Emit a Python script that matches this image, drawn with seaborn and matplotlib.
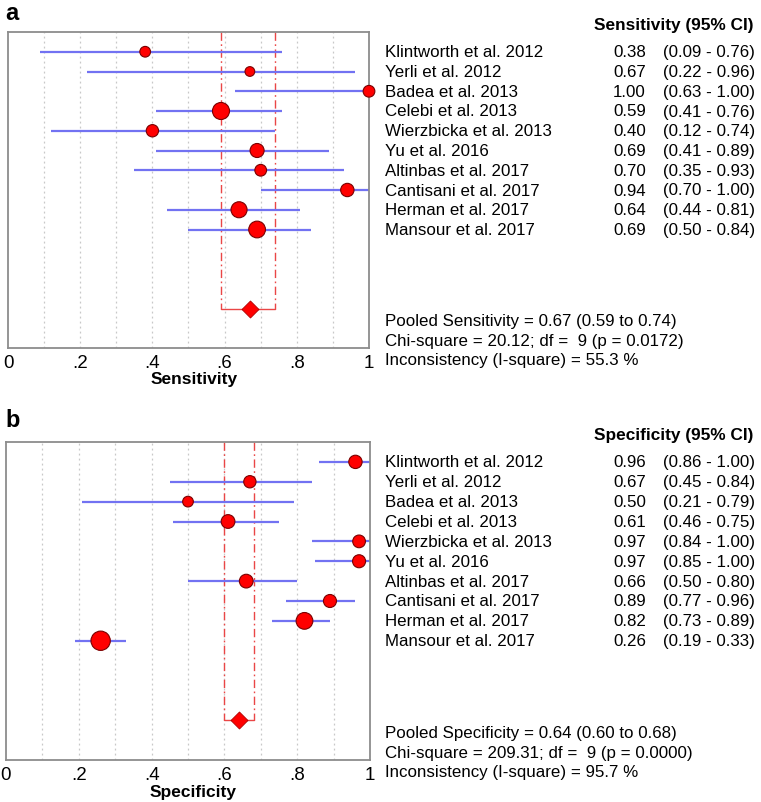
import numpy as np
import pandas as pd
import matplotlib
matplotlib.use("Agg")
import matplotlib.pyplot as plt
import matplotlib.transforms as mtransforms
import seaborn as sns

studies = ["Klintworth et al. 2012", "Yerli et al. 2012", "Badea et al. 2013",
           "Celebi et al. 2013", "Wierzbicka et al. 2013", "Yu et al. 2016",
           "Altinbas et al. 2017", "Cantisani et al. 2017", "Herman et al. 2017",
           "Mansour et al. 2017"]

sens = [0.38, 0.67, 1.00, 0.59, 0.40, 0.69, 0.70, 0.94, 0.64, 0.69]
sens_lo = [0.09, 0.22, 0.63, 0.41, 0.12, 0.41, 0.35, 0.70, 0.44, 0.50]
sens_hi = [0.76, 0.96, 1.00, 0.76, 0.74, 0.89, 0.93, 1.00, 0.81, 0.84]
sens_weight = [114, 94, 137, 289, 151, 196, 137, 177, 256, 279]
sens_pooled = [0.67, 0.59, 0.74]
sens_stats = ["Pooled Sensitivity = 0.67 (0.59 to 0.74)",
              "Chi-square = 20.12; df =  9 (p = 0.0172)",
              "Inconsistency (I-square) = 55.3 %"]

spec = [0.96, 0.67, 0.50, 0.61, 0.97, 0.97, 0.66, 0.89, 0.82, 0.26]
spec_lo = [0.86, 0.45, 0.21, 0.46, 0.84, 0.85, 0.50, 0.77, 0.73, 0.19]
spec_hi = [1.00, 0.84, 0.79, 0.75, 1.00, 1.00, 0.80, 0.96, 0.89, 0.33]
spec_weight = [177, 151, 114, 188, 161, 169, 188, 169, 279, 372]
spec_pooled = [0.64, 0.60, 0.68]
spec_stats = ["Pooled Specificity = 0.64 (0.60 to 0.68)",
              "Chi-square = 209.31; df =  9 (p = 0.0000)",
              "Inconsistency (I-square) = 95.7 %"]

sns.set_style("white")
plt.rcParams["font.family"] = ["Liberation Sans", "DejaVu Sans"]
plt.rcParams["text.color"] = "black"
plt.rcParams["axes.labelcolor"] = "black"
plt.rcParams["xtick.color"] = "black"

fig = plt.figure(figsize=(7.61, 8.03), dpi=100)


def forest(ax, est, lo, hi, weight, pooled, stats, header, xlabel):
    rows = np.arange(1, len(est) + 1)
    df = pd.DataFrame({"study": studies, "est": est, "lo": lo, "hi": hi,
                       "w": weight, "row": rows})

    for g in np.arange(0.1, 1.0, 0.1):
        ax.axvline(g, color="#c8c8c8", lw=0.9, ls=(0, (1.5, 2.5)), zorder=0)

    p_row = 14
    for xv in pooled[1:]:
        ax.plot([xv, xv], [0, p_row], color="#ea4646", lw=1.0,
                ls=(0, (6, 2.5, 1.2, 2.5)), zorder=1)
    ax.plot([pooled[1], pooled[2]], [p_row, p_row], color="#ea4646", lw=1.0, zorder=1)

    ax.hlines(df["row"], df["lo"], df["hi"], color="#7272f2", lw=1.6, zorder=2)
    sns.scatterplot(data=df, x="est", y="row", size="w", size_norm=(0, 400),
                    sizes=(0, 400 * 0.52), color="#ff0000", edgecolor="#7a0000",
                    linewidth=0.8, legend=False, ax=ax, zorder=3, clip_on=False)
    ax.scatter([pooled[0]], [p_row], marker="D", s=75, color="#ff0000",
               edgecolor="#b00000", linewidth=0.6, zorder=4)

    ax.set_xlim(0, 1)
    ax.set_ylim(16, 0)
    ax.set_yticks([])
    ax.set_xticks([0, 0.2, 0.4, 0.6, 0.8, 1.0])
    ax.set_xticklabels(["0", ".2", ".4", ".6", ".8", "1"])
    ax.tick_params(axis="x", length=0, labelsize=13.5, pad=4, labelcolor="black")
    ax.set_xlabel(xlabel, fontsize=12.5, fontweight="bold", va="center")
    ax.xaxis.set_label_coords(0.515, -0.098)
    ax.set_ylabel("")
    for sp in ax.spines.values():
        sp.set_color("#8c8c8c")
        sp.set_linewidth(1.3)

    tr = mtransforms.blended_transform_factory(fig.transFigure, ax.transData)
    fs = 12.2
    ax.text(753 / 761, -0.38, header, transform=tr, ha="right", va="center",
            fontsize=12.4, fontweight="bold")
    for i, r in df.iterrows():
        ax.text(385 / 761, r["row"], r["study"], transform=tr, ha="left",
                va="center", fontsize=fs)
        ax.text(646 / 761, r["row"], f"{r['est']:.2f}", transform=tr, ha="right",
                va="center", fontsize=fs)
        ax.text(663 / 761, r["row"], f"({r['lo']:.2f} - {r['hi']:.2f})",
                transform=tr, ha="left", va="center", fontsize=fs)
    for k, s in enumerate(stats):
        ax.text(385 / 761, 14.6 + k, s, transform=tr, ha="left", va="center",
                fontsize=fs)


ax1 = fig.add_axes([8 / 761, 1 - 349 / 803, 361 / 761, 316 / 803])
forest(ax1, sens, sens_lo, sens_hi, sens_weight, sens_pooled, sens_stats,
       "Sensitivity (95% CI)", "Sensitivity")
ax2 = fig.add_axes([6 / 761, 1 - 761 / 803, 364 / 761, 318 / 803])
forest(ax2, spec, spec_lo, spec_hi, spec_weight, spec_pooled, spec_stats,
       "Specificity (95% CI)", "Specificity")

fig.text(5 / 761, 1 - 14 / 803, "a", fontsize=17, fontweight="bold", va="center")
fig.text(5 / 761, 1 - 421 / 803, "b", fontsize=17, fontweight="bold", va="center")

fig.savefig("out.png", dpi=100)
